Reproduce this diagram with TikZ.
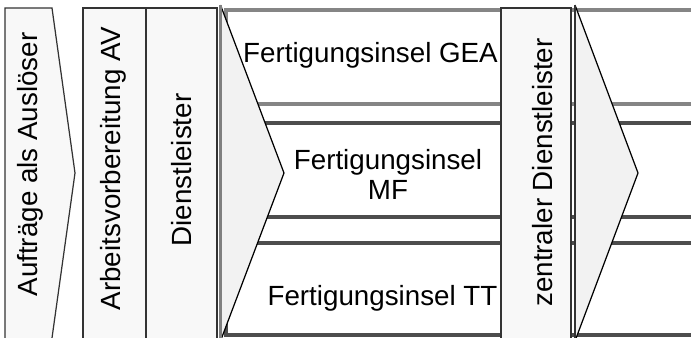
\documentclass[tikz,border=0pt]{standalone}
\usepackage{fontspec}
\setmainfont{Liberation Sans}
\definecolor{boxfill}{HTML}{F8F8F8}
\definecolor{chevfill}{HTML}{F2F2F2}
\definecolor{boxline}{HTML}{333333}
\definecolor{rowlight}{HTML}{858585}
\definecolor{rowdark}{HTML}{4D4D4D}
\tikzset{
  lane/.style={draw=boxline, fill=boxfill, line width=0.7pt},
  chevron/.style={fill=chevfill},
  chevedge/.style={black, line width=0.7pt},
  rowbox light/.style={draw=rowlight, fill=white, line width=2.4pt},
  rowbox dark/.style={draw=rowdark, fill=white, line width=2.4pt},
  lbl/.style={font=\fontsize{15.8}{17.1}\selectfont, inner sep=0pt},
  lanetext/.style={lbl, rotate=90, anchor=base},
  rowtext/.style={lbl, anchor=base},
}
\begin{document}
\begin{tikzpicture}[x=0.02cm, y=-0.02cm]
    \useasboundingbox (0,0) rectangle (691,338);
    \clip (0,0) rectangle (691,338);

    % production islands
    \draw[rowbox light] (226,10) rectangle (720,104);
    \draw[rowbox dark] (226,123) rectangle (720,217);
    \draw[rowbox dark] (226,243) rectangle (720,335);
    \node[rowtext] (gea) at (370.5,62) {Fertigungsinsel GEA};
    \node[lbl, align=center] (mf) at (388,174) {Fertigungsinsel\\MF};
    \node[rowtext] (tt) at (382.5,305) {Fertigungsinsel TT};

    % left chevron
    \fill[chevron] (220.5,5) -- (284,173) -- (220.5,341) -- cycle;
    \draw[chevedge] (220.5,5) -- (284,173) -- (220.5,341);
    \draw[gray, line width=1.4pt] (220.5,5) -- (220.5,341);

    % lanes
    \draw[lane] (5,350) -- (5,8) -- (52,8) -- (75,173) -- (52,338) -- (52,350);
    \draw[lane] (83,8) rectangle (146,350);
    \draw[lane] (146,8) rectangle (217,350);
    \draw[lane] (501,8) rectangle (571,350);
    \node[lanetext] (orders) at (37,164.5) {Aufträge als Auslöser};
    \node[lanetext] (prep) at (120,168.5) {Arbeitsvorbereitung AV};
    \node[lanetext] (service) at (192,170) {Dienstleister};
    \node[lanetext] (central) at (552,172.5) {zentraler Dienstleister};

    % right chevron
    \fill[chevron] (575,5) -- (638,173) -- (575,341) -- cycle;
    \draw[chevedge] (575,5) -- (638,173) -- (575,341);
    \draw[boxline, line width=0.7pt] (575,5) -- (575,341);
\end{tikzpicture}
\end{document}
